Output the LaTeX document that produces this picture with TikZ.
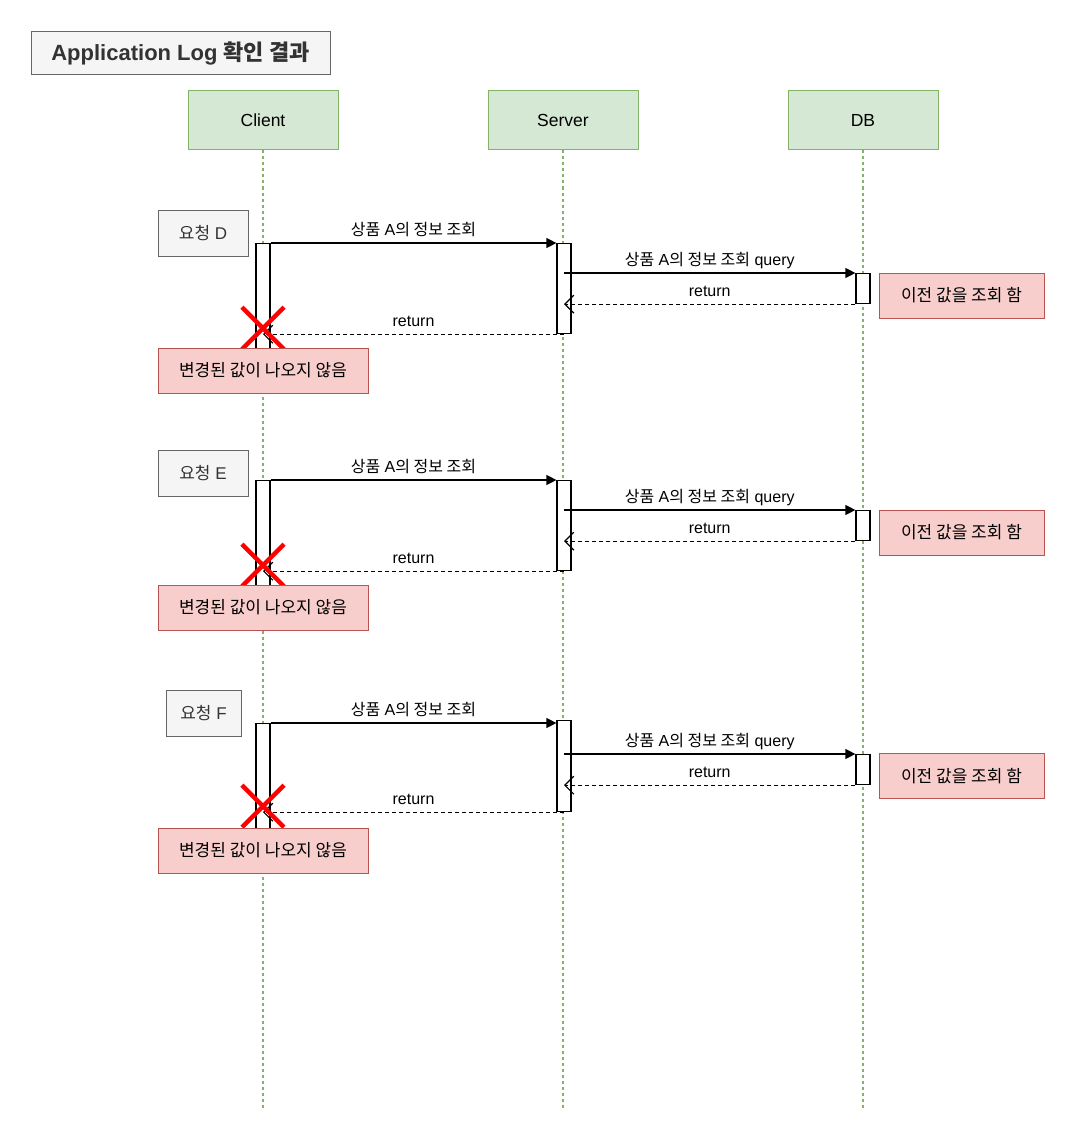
\documentclass[tikz,border=0pt]{standalone}
\usepackage{fontspec}
\setmainfont{Liberation Sans}
\newfontfamily\kr{Noto Sans CJK KR}
\usetikzlibrary{arrows.meta,positioning,calc}

\definecolor{actfill}{HTML}{D5E8D4}
\definecolor{actline}{HTML}{82B366}
\definecolor{reqfill}{HTML}{F5F5F5}
\definecolor{reqline}{HTML}{666666}
\definecolor{reqtext}{HTML}{333333}
\definecolor{notefill}{HTML}{F8CECC}
\definecolor{noteline}{HTML}{B85450}

\begin{document}
\begin{tikzpicture}[x=1pt, y=-1pt, >=stealth]

\tikzstyle{actor}=[draw=actline, fill=actfill, line width=1pt, minimum width=150pt, minimum height=59pt, font=\fontsize{17.5}{20}\selectfont]
\tikzstyle{life}=[draw=actline, line width=1.3pt, dash pattern=on 3pt off 3pt]
\tikzstyle{req}=[draw=reqline, fill=reqfill, text=reqtext, line width=1pt, minimum height=46pt, font=\fontsize{17}{20}\selectfont]
\tikzstyle{bar}=[draw, fill=white, line width=1.2pt, minimum width=14pt, anchor=north, inner sep=0pt]
\tikzstyle{call}=[-{Triangle[length=10pt,width=10pt]}, line width=1.2pt]
\tikzstyle{ret}=[-{Straight Barb[length=9pt,width=18pt]}, line width=1.2pt, dash pattern=on 4pt off 3pt]
\tikzstyle{lbl}=[font=\fontsize{16}{19}\selectfont, text height=11.5pt, text depth=3pt, inner sep=4pt]
\tikzstyle{note}=[draw=noteline, fill=notefill, line width=1pt, minimum height=45pt, font=\fontsize{17}{20}\selectfont]
\tikzstyle{cross}=[draw=red, line width=4.5pt]

\useasboundingbox (0,0) rectangle (1076,1142);

% title
\node[draw=reqline, fill=reqfill, text=reqtext, line width=1pt, minimum width=299pt, minimum height=43pt,
  font=\fontsize{22}{25}\selectfont\bfseries] (title) at (180.5,53.5) {Application Log {\kr\bfseries 확인 결과}};

% actors and lifelines
\node[actor] (client) at (263,120.5) {Client};
\node[actor] (server) at (563,120.5) {Server};
\node[actor] (db) at (863,120.5) {DB};
\coordinate (cEnd) at (263,1108);
\coordinate (sEnd) at (563,1108);
\coordinate (dEnd) at (863,1108);
\draw[life] (client) -- (cEnd);
\draw[life] (server) -- (sEnd);
\draw[life] (db) -- (dEnd);

% request D
\node[req, minimum width=90pt] (reqD) at (203,233) {{\kr 요청} D};
\node[bar, minimum height=135pt] (cbD) at (263,243) {};
\node[bar, minimum height=90pt] (sbD) at (564,243) {};
\node[bar, minimum height=30pt] (dbD) at (863,273) {};
\draw[call] (cbD.north east) -- node[lbl, above] {{\kr 상품} A{\kr 의 정보 조회}} (sbD.west |- cbD.north);
\draw[call] (sbD.center |- dbD.north) -- node[lbl, above] {{\kr 상품} A{\kr 의 정보 조회} query} (dbD.north west);
\draw[ret] (dbD.south west) -- node[lbl, above] {return} (sbD.center |- dbD.south);
\draw[ret] (sbD.south) -- node[lbl, above] {return} (cbD.center |- sbD.south);
\coordinate (xD) at ($(cbD.center |- sbD.south)+(0,-6)$);
\draw[cross] ($(xD)+(-21,-21)$) -- ($(xD)+(21,21)$);
\draw[cross] ($(xD)+(-21,21)$) -- ($(xD)+(21,-21)$);
\node[note, minimum width=210pt] (resD) at (263,370.5) {\kr 변경된 값이 나오지 않음};
\node[note, minimum width=165pt] (prevD) at (961.5,295.5) {\kr 이전 값을 조회 함};

% request E
\node[req, minimum width=90pt] (reqE) at (203,473) {{\kr 요청} E};
\node[bar, minimum height=135pt] (cbE) at (263,480) {};
\node[bar, minimum height=90pt] (sbE) at (564,480) {};
\node[bar, minimum height=30pt] (dbE) at (863,510) {};
\draw[call] (cbE.north east) -- node[lbl, above] {{\kr 상품} A{\kr 의 정보 조회}} (sbE.west |- cbE.north);
\draw[call] (sbE.center |- dbE.north) -- node[lbl, above] {{\kr 상품} A{\kr 의 정보 조회} query} (dbE.north west);
\draw[ret] (dbE.south west) -- node[lbl, above] {return} (sbE.center |- dbE.south);
\draw[ret] (sbE.south) -- node[lbl, above] {return} (cbE.center |- sbE.south);
\coordinate (xE) at ($(cbE.center |- sbE.south)+(0,-6)$);
\draw[cross] ($(xE)+(-21,-21)$) -- ($(xE)+(21,21)$);
\draw[cross] ($(xE)+(-21,21)$) -- ($(xE)+(21,-21)$);
\node[note, minimum width=210pt] (resE) at (263,607.5) {\kr 변경된 값이 나오지 않음};
\node[note, minimum width=165pt] (prevE) at (961.5,532.5) {\kr 이전 값을 조회 함};

% request F
\node[req, minimum width=75pt] (reqF) at (203.5,713) {{\kr 요청} F};
\node[bar, minimum height=130pt] (cbF) at (263,723) {};
\node[bar, minimum height=91pt] (sbF) at (564,720) {};
\node[bar, minimum height=30pt] (dbF) at (863,754) {};
\draw[call] (cbF.north east) -- node[lbl, above] {{\kr 상품} A{\kr 의 정보 조회}} (sbF.west |- cbF.north);
\draw[call] (sbF.center |- dbF.north) -- node[lbl, above] {{\kr 상품} A{\kr 의 정보 조회} query} (dbF.north west);
\draw[ret] (dbF.south west) -- node[lbl, above] {return} (sbF.center |- dbF.south);
\draw[ret] (sbF.south) -- node[lbl, above] {return} (cbF.center |- sbF.south);
\coordinate (xF) at ($(cbF.center |- sbF.south)+(0,-6)$);
\draw[cross] ($(xF)+(-21,-21)$) -- ($(xF)+(21,21)$);
\draw[cross] ($(xF)+(-21,21)$) -- ($(xF)+(21,-21)$);
\node[note, minimum width=210pt] (resF) at (263,850.5) {\kr 변경된 값이 나오지 않음};
\node[note, minimum width=165pt] (prevF) at (961.5,776) {\kr 이전 값을 조회 함};

\end{tikzpicture}
\end{document}
